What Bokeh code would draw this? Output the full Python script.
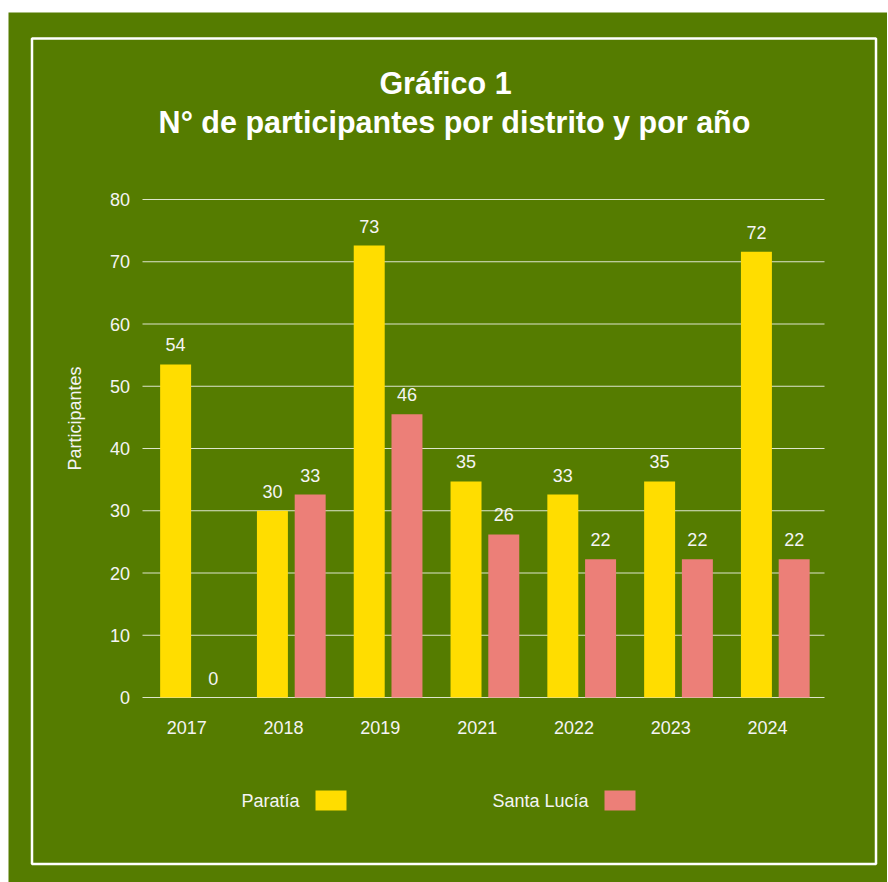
import math
from bokeh.plotting import figure
from bokeh.models import (ColumnDataSource, Range1d, Label, BoxAnnotation, Spacer,
                          FixedTicker)
from bokeh.layouts import column, row
from bokeh.embed import file_html
from bokeh.resources import INLINE
from bokeh.core.properties import value

# ---- data ----
years = ["2017", "2018", "2019", "2021", "2022", "2023", "2024"]
paratia = [53.5, 30.0, 72.6, 34.7, 32.6, 34.7, 71.6]
santa_lucia = [0.0, 32.6, 45.5, 26.2, 22.2, 22.2, 22.2]
series_names = ["Paratía", "Santa Lucía"]
y_ticks = [0, 10, 20, 30, 40, 50, 60, 70, 80]
title_lines = ["Gráfico 1", "N° de participantes por distrito y por año"]
y_title = "Participantes"

# ---- style ----
BG = "#557C00"
YELLOW = "#FFDD00"
PINK = "#EC7F78"
TXT = "#F4F4F4"
FONT = "Liberation Sans"

# ---- layout calibration (page pixels) ----
PX_ORIGIN = 146.6                    # left edge of first category slot
CAT_W = 96.8                         # width of one category slot
GRID_PX0, GRID_PX1 = 143.0, 825.0    # horizontal extent of the grid lines
PY_ZERO, PY_TOP = 697.0, 199.0       # y=0 and y=80 positions
FIG_X0, FIG_Y0, FIG_W, FIG_H = 9, 12, 879, 870
N = len(years)
Y_MAX = y_ticks[-1]
Y_PX = (PY_ZERO - PY_TOP) / Y_MAX

def ux(px):
    return (px - PX_ORIGIN) / CAT_W

def vy(py):
    return (PY_ZERO - py) / Y_PX

xpos = [i + 0.5 for i in range(N)]
OFF = 0.195
W = 0.32
LABEL_SHIFT = -0.08

src = ColumnDataSource(dict(
    xp=[x - OFF for x in xpos],
    xs=[x + OFF for x in xpos],
    paratia=paratia,
    santa=santa_lucia,
    p_lab=[f"{int(v + 0.5)}" for v in paratia],
    s_lab=[f"{int(v + 0.5)}" for v in santa_lucia],
))

p = figure(
    x_range=Range1d(ux(FIG_X0), ux(FIG_X0 + FIG_W)),
    y_range=Range1d(vy(FIG_Y0 + FIG_H), vy(FIG_Y0)),
    width=FIG_W, height=FIG_H, output_backend="svg", toolbar_location=None,
    min_border=0, min_border_left=0, min_border_right=0, min_border_top=0, min_border_bottom=0,
    title=None,
)
p.background_fill_color = BG
p.border_fill_color = BG
p.outline_line_color = None
p.xgrid.visible = False
p.ygrid.visible = False

# grid lines over the plot area
p.segment(x0=ux(GRID_PX0), x1=ux(GRID_PX1), y0=y_ticks, y1=y_ticks,
          line_color="white", line_alpha=0.8, line_width=1)

# bars
p.vbar(x="xp", top="paratia", width=W, source=src, fill_color=YELLOW, line_color=None)
p.vbar(x="xs", top="santa", width=W, source=src, fill_color=PINK, line_color=None)

for xcol, col, lab in [("xp", "paratia", "p_lab"), ("xs", "santa", "s_lab")]:
    p.text(x=xcol, y=col, text=lab, source=src,
           text_align="center", text_baseline="bottom", y_offset=-13,
           text_font=value(FONT), text_font_size="18px", text_color=TXT)

# axes fixed at the plot area's edges
tick_x = [x + LABEL_SHIFT for x in xpos]
p.xaxis.fixed_location = 0
p.yaxis.fixed_location = 0
p.xaxis.ticker = FixedTicker(ticks=tick_x)
p.xaxis.major_label_overrides = {x: y for x, y in zip(tick_x, years)}
p.yaxis.ticker = FixedTicker(ticks=y_ticks)
for ax in (p.xaxis[0], p.yaxis[0]):
    ax.axis_line_color = None
    ax.major_tick_line_color = None
    ax.minor_tick_line_color = None
    ax.major_tick_out = 0
    ax.major_tick_in = 0
    ax.minor_tick_out = 0
    ax.minor_tick_in = 0
    ax.major_label_text_font = FONT
    ax.major_label_text_font_size = "18px"
    ax.major_label_text_color = TXT
p.xaxis.major_label_standoff = 23
p.yaxis.major_label_standoff = 16

def lab(px, py, text, size="18px", bold=False, align="center", angle=0.0, color=TXT):
    p.add_layout(Label(x=ux(px), y=vy(py), text=text,
                       angle=angle, text_align=align, text_baseline="middle",
                       text_font=FONT, text_font_size=size,
                       text_font_style="bold" if bold else "normal", text_color=color))

def box(l, r, t, b, **kw):
    p.add_layout(BoxAnnotation(left=ux(l), right=ux(r), top=vy(t), bottom=vy(b), **kw))

# titles
lab(446, 82, title_lines[0], size="30.5px", bold=True, color="white")
lab(455, 121, title_lines[1], size="30.5px", bold=True, color="white")
# y axis title
lab(75, 418, y_title, angle=math.pi / 2)

# legend (text then swatch)
for name, col, tx_right, sw_left in [(series_names[0], YELLOW, 300, 316),
                                     (series_names[1], PINK, 589, 605)]:
    lab(tx_right, 800, name, align="right")
    box(sw_left, sw_left + 31, 790, 810, fill_color=col, fill_alpha=1,
        line_color=None, line_alpha=0)

# white border
box(32.5, 876.5, 38, 863.5, fill_alpha=0, fill_color=None,
    line_color="white", line_alpha=1, line_width=2.5)

layout = column(Spacer(width=FIG_X0 + FIG_W - 1, height=FIG_Y0),
                row(Spacer(width=FIG_X0 - 1, height=FIG_H), p))
open("out.html", "w").write(file_html(layout, INLINE))
